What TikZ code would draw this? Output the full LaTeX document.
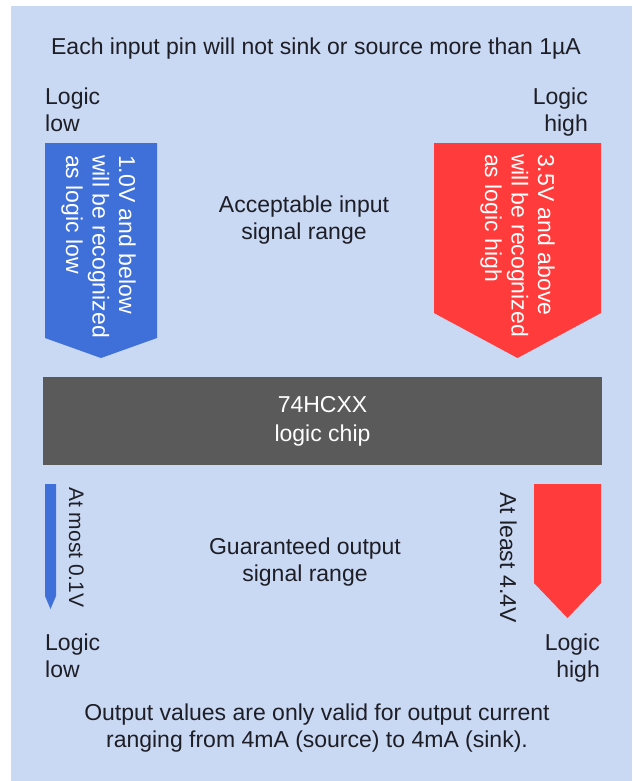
\documentclass[tikz,border=0pt]{standalone}
\usepackage{fontspec}
\setmainfont{Liberation Sans}
\usetikzlibrary{positioning}
\definecolor{panelblue}{HTML}{C9D8F3}
\definecolor{lowblue}{HTML}{3F70DA}
\definecolor{highred}{HTML}{FF3B3B}
\definecolor{chipgray}{HTML}{5A5A5A}
\definecolor{inktext}{HTML}{1E1E26}

\begin{document}
\begin{tikzpicture}[x=1pt,y=-1pt,
  txt/.style={font=\fontsize{23}{26.5}\selectfont,text=inktext,align=center,inner sep=0pt},
  sidetxt/.style={txt,rotate=-90,align=left,anchor=north west},
  chipbox/.style={fill=chipgray,text=white,minimum width=559pt,minimum height=88pt,
    font=\fontsize{23}{29}\selectfont,align=center}]
  \useasboundingbox (0,0) rectangle (632,781);
  \fill[panelblue] (11,6) rectangle (632,781);

  % Signal level pointers
  \foreach \l/\r/\t/\b/\e/\c in {
    45/157/143/338/358/lowblue,
    434/601/143/313/358/highred,
    45/56/484/596/609/lowblue,
    534/601/484/583/618/highred%
  } {
    \fill[\c] (\l,\t) -- (\r,\t) -- (\r,\b) -- ({(\l+\r)/2},\e) -- (\l,\b) -- cycle;
  }

  % Input side
  \node[txt,anchor=north] (pinnote) at (316,38) {Each input pin will not sink or source more than 1\textmu A};
  \node[txt,anchor=north west,align=left] (inlow) at (45,88) {Logic\\low};
  \node[txt,anchor=north east,align=right] (inhigh) at (588,88) {Logic\\high};
  \node[txt,anchor=north] (inrange) at (304,196) {Acceptable input\\signal range};
  \node[sidetxt,text=white] (lowrule) at (136,155) {1.0V and below\\will be recognized\\as logic low};
  \node[sidetxt,text=white] (highrule) at (555,154) {3.5V and above\\will be recognized\\as logic high};

  % Chip
  \node[chipbox] (chip) at (322.5,421) {74HCXX\\logic chip};

  % Output side
  \node[sidetxt,font=\fontsize{21}{24}\selectfont] (minnote) at (84,487) {At most 0.1V};
  \node[sidetxt] (maxnote) at (517,492) {At least 4.4V};
  \node[txt,anchor=north] (outrange) at (305,538) {Guaranteed output\\signal range};
  \node[txt,anchor=north west,align=left] (outlow) at (45,634) {Logic\\low};
  \node[txt,anchor=north east,align=right] (outhigh) at (600,634) {Logic\\high};
  \node[txt,anchor=north] (currentnote) at (317,704) {Output values are only valid for output current\\ranging from 4mA (source) to 4mA (sink).};
\end{tikzpicture}
\end{document}
